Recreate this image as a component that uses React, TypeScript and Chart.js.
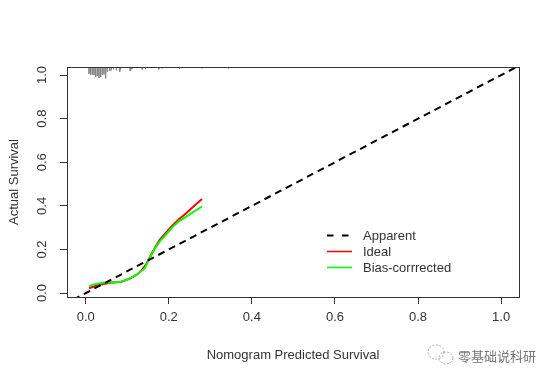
import { useEffect, useRef } from 'react';
import { Chart, registerables } from 'chart.js';
Chart.register(...registerables);

const X_MIN = -0.045;
const X_MAX = 1.043;
const Y_MIN = -0.018;
const Y_MAX = 1.037;

const xTicks = [0, 0.2, 0.4, 0.6, 0.8, 1.0];
const yTicks = [0, 0.2, 0.4, 0.6, 0.8, 1.0];

const apparentX = [-0.03, 1.05];
const apparentY = [-0.03, 1.05];

const idealX = [0.008, 0.02, 0.04, 0.06, 0.086, 0.105, 0.122, 0.135, 0.147, 0.16, 0.178, 0.195, 0.21, 0.225, 0.242, 0.26, 0.28];
const idealY = [0.022, 0.03, 0.041, 0.047, 0.052, 0.065, 0.083, 0.105, 0.137, 0.185, 0.244, 0.28, 0.313, 0.34, 0.366, 0.398, 0.432];

const biasX = [0.008, 0.02, 0.042, 0.065, 0.086, 0.105, 0.122, 0.142, 0.154, 0.165, 0.178, 0.195, 0.21, 0.225, 0.242, 0.26, 0.28];
const biasY = [0.032, 0.04, 0.047, 0.05, 0.052, 0.066, 0.083, 0.113, 0.16, 0.2, 0.236, 0.272, 0.305, 0.33, 0.351, 0.373, 0.397];

const rugX = [0.008, 0.012, 0.016, 0.02, 0.024, 0.028, 0.032, 0.036, 0.04, 0.044, 0.048, 0.052, 0.058, 0.062, 0.067, 0.074, 0.082, 0.084, 0.107, 0.111, 0.136, 0.144, 0.176, 0.184, 0.226, 0.28, 0.344];
const rugLen = [0.031, 0.037, 0.034, 0.037, 0.046, 0.041, 0.049, 0.046, 0.037, 0.034, 0.052, 0.022, 0.018, 0.015, 0.011, 0.015, 0.022, 0.011, 0.018, 0.011, 0.011, 0.008, 0.011, 0.006, 0.008, 0.006, 0.006];

const legendLabels = ['Apparent', 'Ideal', 'Bias-corrrected'];
const legendColors = ['#000000', '#ff0000', '#00ff00'];
const xTitle = 'Nomogram Predicted Survival';
const yTitle = 'Actual Survival';
const watermark = '零基础说科研';

const FONT = "'Liberation Sans', Arial, sans-serif";
const TEXT = '#333333';

export default function App() {
  const ref = useRef<HTMLCanvasElement | null>(null);
  useEffect(() => {
    document.body.style.margin = '0';
    const canvas = ref.current;
    if (!canvas) return;

    const pts = (xs: number[], ys: number[]) => xs.map((x, i) => ({ x, y: ys[i] }));
    const rugData: { x: number; y: number | null }[] = [];
    rugX.forEach((x, i) => {
      rugData.push({ x, y: Y_MAX });
      rugData.push({ x, y: Y_MAX - rugLen[i] });
      rugData.push({ x, y: null });
    });

    const overlay = {
      id: 'overlay',
      afterDraw(chart: any) {
        const { ctx, chartArea: a } = chart;
        ctx.save();
        // box
        ctx.strokeStyle = TEXT;
        ctx.lineWidth = 1;
        ctx.strokeRect(Math.round(a.left) + 0.5, Math.round(a.top) + 0.5, Math.round(a.right - a.left), Math.round(a.bottom - a.top));
        // legend
        const lx0 = 327, lx1 = 352, tx = 363;
        const rows = [235, 251, 267];
        ctx.font = `13px ${FONT}`;
        ctx.textBaseline = 'middle';
        ctx.textAlign = 'left';
        for (let i = 0; i < rows.length; i++) {
          const y = rows[i];
          ctx.save();
          ctx.beginPath();
          ctx.strokeStyle = legendColors[i];
          ctx.lineWidth = i === 0 ? 2 : 1.5;
          ctx.setLineDash(i === 0 ? [6.5, 8.5] : []);
          ctx.moveTo(i === 0 ? lx0 : lx0, y + 0.5);
          ctx.lineTo(i === 0 ? 350 : lx1, y + 0.5);
          ctx.stroke();
          ctx.restore();
          ctx.fillStyle = TEXT;
          ctx.fillText(legendLabels[i], tx, y + 1);
        }
        // watermark
        ctx.strokeStyle = '#aaaaaa';
        ctx.lineWidth = 1;
        ctx.setLineDash([2, 1.5]);
        ctx.beginPath();
        ctx.ellipse(436, 352, 8, 7, 0, 0, Math.PI * 2);
        ctx.stroke();
        ctx.beginPath();
        ctx.ellipse(446, 358, 7, 6, 0, 0, Math.PI * 2);
        ctx.stroke();
        ctx.setLineDash([]);
        ctx.fillStyle = '#777777';
        ctx.font = `13px 'Noto Sans CJK SC', sans-serif`;
        ctx.fillText(watermark, 458, 356);
        ctx.restore();
      },
    };

    const chart = new Chart(canvas, {
      type: 'line',
      data: {
        datasets: [
          {
            label: legendLabels[0],
            data: pts(apparentX, apparentY),
            borderColor: legendColors[0],
            borderWidth: 2,
            borderDash: [7, 5],
            pointRadius: 0,
            order: 0,
          },
          {
            label: legendLabels[1],
            data: pts(idealX, idealY),
            borderColor: legendColors[1],
            borderWidth: 2,
            pointRadius: 0,
            order: 2,
          },
          {
            label: legendLabels[2],
            data: pts(biasX, biasY),
            borderColor: legendColors[2],
            borderWidth: 2,
            pointRadius: 0,
            order: 1,
          },
          {
            label: 'rug',
            data: rugData as any,
            borderColor: '#888888',
            borderWidth: 1,
            pointRadius: 0,
            spanGaps: false,
            order: 3,
          },
        ],
      },
      options: {
        animation: false,
        responsive: false,
        devicePixelRatio: 1,
        layout: { padding: { left: 0, top: 67, right: 35, bottom: 0 } },
        plugins: { legend: { display: false }, tooltip: { enabled: false } },
        scales: {
          x: {
            type: 'linear',
            min: X_MIN,
            max: X_MAX,
            afterBuildTicks: (s: any) => { s.ticks = xTicks.map((v) => ({ value: v })); },
            afterFit: (s: any) => { s.height = 84; },
            ticks: {
              callback: (v: any) => Number(v).toFixed(1),
              font: { size: 13, family: FONT },
              color: TEXT,
              padding: 6,
              maxRotation: 0,
              minRotation: 0,
            },
            grid: { display: true, drawOnChartArea: false, drawTicks: true, tickLength: 7, color: TEXT },
            border: { display: true, color: TEXT },
            title: { display: true, text: xTitle, font: { size: 13, family: FONT }, color: TEXT, padding: { top: 0, bottom: 18 } },
          },
          y: {
            type: 'linear',
            min: Y_MIN,
            max: Y_MAX,
            afterBuildTicks: (s: any) => { s.ticks = yTicks.map((v) => ({ value: v })); },
            afterFit: (s: any) => { s.width = 67; },
            ticks: {
              callback: (v: any) => Number(v).toFixed(1),
              font: { size: 13, family: FONT },
              color: TEXT,
              padding: 9,
              minRotation: 90,
              maxRotation: 90,
              crossAlign: 'center',
            },
            grid: { display: true, drawOnChartArea: false, drawTicks: true, tickLength: 7, color: TEXT },
            border: { display: true, color: TEXT },
            title: { display: true, text: yTitle, font: { size: 13, family: FONT }, color: TEXT, padding: { top: 7, bottom: 0 } },
          },
        },
      },
      plugins: [overlay],
    } as any);
    return () => chart.destroy();
  }, []);

  return (
    <div style={{ width: 554, height: 381 }}>
      <canvas ref={ref} width={554} height={381} style={{ display: 'block' }} />
    </div>
  );
}
